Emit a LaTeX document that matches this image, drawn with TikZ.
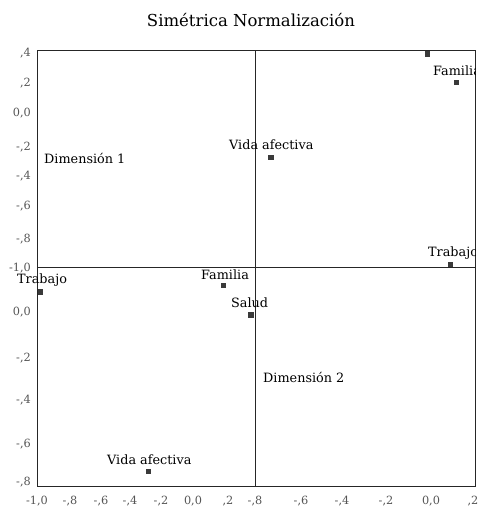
\documentclass[tikz,border=0pt]{standalone}
\usepackage{fontspec}
\setmainfont{DejaVu Serif}
\definecolor{tickgray}{HTML}{555555}
\definecolor{markgray}{HTML}{3A3A3A}
\begin{document}
\begin{tikzpicture}[x=1pt,y=-1pt,
  lbl/.style={inner sep=0pt,anchor=west,font=\fontsize{12.8}{13}\selectfont},
  ytick/.style={inner sep=0pt,anchor=east,text=tickgray,font=\fontsize{11.3}{12}\selectfont},
  xtick/.style={inner sep=0pt,anchor=center,text=tickgray,font=\fontsize{11.3}{12}\selectfont},
  pt/.style={fill=markgray,draw=none,minimum size=5.5pt,inner sep=0pt,rectangle},
  frame/.style={draw=black!85,line width=0.9pt}]
\useasboundingbox (0,0) rectangle (480,512);
% title
\node[inner sep=0pt,font=\fontsize{16.5}{17}\selectfont] (title) at (251,20) {Simétrica Normalización};
% frame and dividers
\draw[frame] (37.5,50) rectangle (475.3,486);
\draw[frame] (37.5,267.7) -- (475.3,267.7);
\draw[frame] (255.5,50) -- (255.5,486);
% y ticks
\foreach \t/\y in {{,4}/52.7,{,2}/82.7,{0,0}/112.7,{-,2}/146.7,{-,4}/176,{-,6}/206,{-,8}/239.3,{-1,0}/268.3,{0,0}/311.7,{-,2}/358,{-,4}/400,{-,6}/444,{-,8}/482}
  \node[ytick] at (31,\y) {\t};
% x ticks
\foreach \t/\x in {{-1,0}/37,{-,8}/70,{-,6}/101,{-,4}/130,{-,2}/161,{0,0}/193,{,2}/228,{-,8}/255,{-,6}/301,{-,4}/342,{-,2}/386,{0,0}/431,{,2}/473}
  \node[xtick] at (\x,501) {\t};
% points top
\node[pt] (p1) at (427.3,54) {};
\node[pt] (p2) at (456.7,82.3) {};
\node[pt] (p3) at (271,157.3) {};
\node[pt] (p4) at (450.3,264.3) {};
% points bottom
\node[pt] (q1) at (40.7,292) {};
\node[pt] (q2) at (223.3,285.7) {};
\node[pt] (q3) at (251,315) {};
\node[pt] (q4) at (148.3,471.7) {};
% labels
\begin{scope}
\clip (0,0) rectangle (475.3,512);
\node[lbl] (l1) at (433,71) {Familia};
\node[lbl] (l4) at (428,253) {Trabajo};
\end{scope}
\node[lbl] (l3) at (229,145) {Vida afectiva};
\node[lbl] (d1) at (44,158) {Dimensión 1};
\node[lbl] (m1) at (17,280) {Trabajo};
\node[lbl] (m2) at (201,275) {Familia};
\node[lbl] (m3) at (231,302.7) {Salud};
\node[lbl] (d2) at (263,377) {Dimensión 2};
\node[lbl] (m4) at (107,460) {Vida afectiva};
\end{tikzpicture}
\end{document}
